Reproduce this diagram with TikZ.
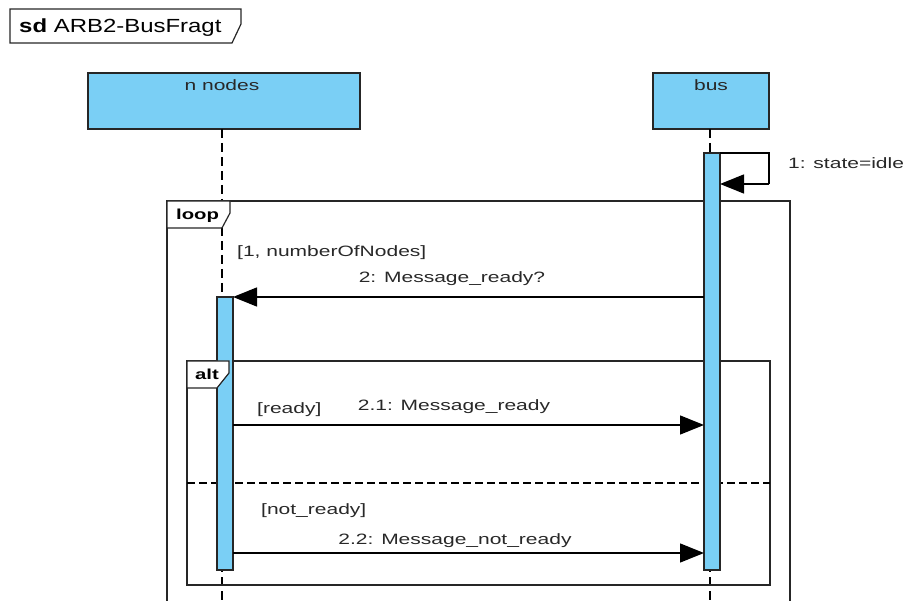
\documentclass[tikz,border=0pt]{standalone}
\usepackage{fontspec}
\setmainfont{Liberation Sans}
\newfontfamily\umlfont[FakeStretch=1.4]{Liberation Sans}
\newfontfamily\titlefont[FakeStretch=1.26]{Liberation Sans}
\usetikzlibrary{arrows.meta}
\definecolor{lifeblue}{RGB}{122,207,245}
\definecolor{textgray}{RGB}{40,40,40}
\tikzset{
  lbl/.style={inner sep=0pt, anchor=base west, text=textgray,
    font=\umlfont\fontsize{15}{18}\selectfont},
  clbl/.style={lbl, anchor=base},
  head/.style={draw=black!85, line width=1.3pt, fill=lifeblue, inner sep=0pt},
  activation/.style={draw=black!85, line width=1.2pt, fill=lifeblue, inner sep=0pt, minimum width=16pt},
  lifeline/.style={line width=1.2pt, dash pattern=on 9pt off 5pt},
  frame/.style={line width=1.2pt, draw=black!85},
  msg/.style={line width=1.4pt, -{Triangle[length=24pt,width=19pt]}},
  tabtext/.style={inner sep=0pt, anchor=base west, font=\umlfont\bfseries\fontsize{14.5}{17}\selectfont}
}
\begin{document}
\begin{tikzpicture}[x=1pt, y=-1pt]
\useasboundingbox (0,0) rectangle (908,601);
\clip (0,0) rectangle (908,601);

% diagram title frame
\draw[frame] (10,9) -- (241,9) -- (241,24) -- (232,43) -- (10,43) -- cycle;
\node[inner sep=0pt, anchor=base west, font=\titlefont\fontsize{19}{22}\selectfont] (title)
  at (19,33) {\textbf{sd} ARB2-BusFragt};

% lifeline heads
\node[head, minimum width=272pt, minimum height=56pt] (nodesHead) at (224,101) {};
\node[clbl] (nodesName) at (222,91) {n nodes};
\node[head, minimum width=116pt, minimum height=56pt] (busHead) at (711,101) {};
\node[clbl] (busName) at (711,91) {bus};

% lifeline tails
\coordinate (nodesEnd) at (222,601);
\coordinate (busEnd) at (710,601);
\draw[lifeline] (222,129) -- (nodesEnd);
\draw[lifeline] (710,129) -- (busEnd);

% loop combined fragment (continues below the visible area)
\draw[frame] (167,601) -- (167,201) -- (790,201) -- (790,601);
\node[lbl] (guardLoop) at (237,257) {[1, numberOfNodes]};

% alt combined fragment
\draw[frame] (187,361) rectangle (770,585);
\draw[line width=1.2pt, dash pattern=on 8pt off 4pt] (187,483) -- (770,483);

% activations
\node[activation, minimum height=417pt] (busAct) at (712,361.5) {};
\node[activation, minimum height=273pt] (nodesAct) at (225,433.5) {};

% fragment name tabs, on top of the activations
\draw[frame, fill=white] (167,201) -- (230,201) -- (230,213) -- (222,228) -- (167,228) -- cycle;
\node[tabtext] (loopTag) at (176,220) {loop};
\draw[frame, fill=white] (187,361) -- (229,361) -- (229,373) -- (217,388) -- (187,388) -- cycle;
\node[tabtext] (altTag) at (195,380) {alt};

% 1: self message on bus
\coordinate (selfA) at (720,153);
\coordinate (selfB) at (720,184);
\draw[line width=1.4pt] (selfA) -- (769,153) -- (769,184);
\draw[msg] (769,184) -- (selfB);
\node[lbl] (m1) at (788,169) {1: state=idle};

% 2: bus asks each node
\coordinate (m2s) at (704,297);
\coordinate (m2e) at (233,297);
\draw[msg] (m2s) -- (m2e);
\node[clbl] (m2) at (452,283) {2: Message\_ready?};

% 2.1: node is ready
\coordinate (m21s) at (233,425);
\coordinate (m21e) at (704,425);
\draw[msg] (m21s) -- (m21e);
\node[lbl] (g21) at (257,414) {[ready]};
\node[clbl] (m21) at (454,411) {2.1: Message\_ready};

% 2.2: node is not ready
\coordinate (m22s) at (233,553);
\coordinate (m22e) at (704,553);
\draw[msg] (m22s) -- (m22e);
\node[lbl] (g22) at (261,514) {[not\_ready]};
\node[clbl] (m22) at (455,544) {2.2: Message\_not\_ready};
\end{tikzpicture}
\end{document}
